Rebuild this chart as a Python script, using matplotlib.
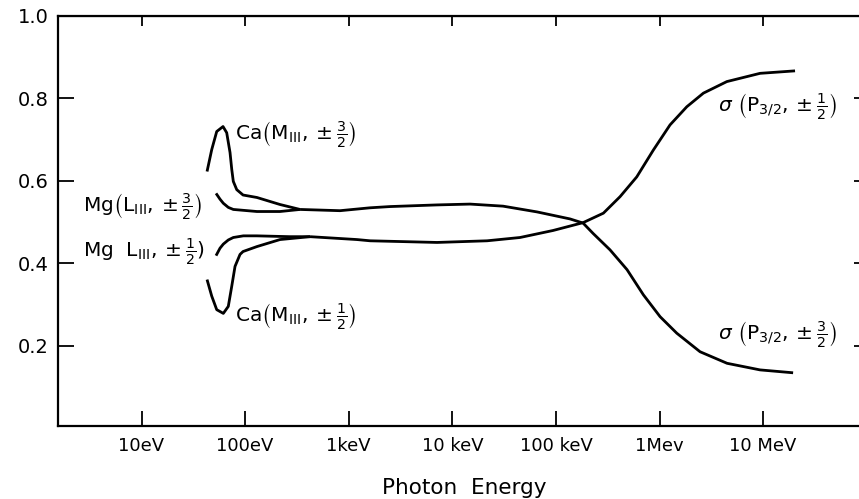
import numpy as np
import matplotlib
matplotlib.use("Agg")
import matplotlib.pyplot as plt
from matplotlib.ticker import NullLocator

plt.rcParams['font.family'] = ['DejaVu Sans']
plt.rcParams['mathtext.fontset'] = 'dejavusans'

# photon energy in eV
ca32_e = [42.9, 47.6, 53.2, 61.2, 66.4, 71.5, 74.3, 76.9, 83.0, 95.5, 130, 217, 339]
ca32_v = [0.623, 0.676, 0.720, 0.732, 0.717, 0.669, 0.628, 0.599, 0.579, 0.566, 0.560, 0.543, 0.531]

mg32_e = [52.4, 57.2, 61.6, 68.8, 76.9, 130, 217, 339]
mg32_v = [0.570, 0.556, 0.546, 0.536, 0.531, 0.526, 0.526, 0.531]

mg12_e = [52.4, 57.2, 61.6, 68.8, 76.9, 96.1, 129.4, 271, 423]
mg12_v = [0.419, 0.437, 0.447, 0.457, 0.463, 0.467, 0.467, 0.465, 0.465]

ca12_e = [42.9, 47.6, 53.2, 61.6, 68.8, 74.3, 79.9, 89.3, 95.5, 130, 217, 423]
ca12_v = [0.361, 0.321, 0.288, 0.279, 0.296, 0.345, 0.393, 0.422, 0.429, 0.441, 0.458, 0.465]

# common branches above ~400 eV
j32_e = [339, 824, 1607, 2506, 7117, 14820, 30850, 65750, 136800, 182700, 228000,
         332700, 485600, 698000, 1.012e6, 1.466e6, 2.460e6, 4.483e6, 9.33e6, 1.945e7]
j32_v = [0.531, 0.528, 0.535, 0.538, 0.542, 0.544, 0.539, 0.525, 0.508, 0.498, 0.473,
         0.433, 0.385, 0.324, 0.271, 0.231, 0.186, 0.158, 0.142, 0.135]

j12_e = [423, 1202, 1607, 7117, 21630, 44990, 93770, 182700, 287000, 415600, 602500,
         871000, 1.262e6, 1.832e6, 2.649e6, 4.46e6, 9.33e6, 2.03e7]
j12_v = [0.465, 0.458, 0.455, 0.451, 0.455, 0.463, 0.480, 0.499, 0.522, 0.562, 0.610,
         0.675, 0.736, 0.780, 0.813, 0.841, 0.861, 0.867]

tick_e = [10, 100, 1e3, 1e4, 1e5, 1e6, 1e7]
tick_lbl = ['10eV', '100eV', '1keV', '10 keV', '100 keV', '1Mev', '10 MeV']
ytick_v = [0.2, 0.4, 0.6, 0.8, 1.0]

fig = plt.figure(figsize=(8.59, 4.99), dpi=100)
# right edge of the frame sits just past the picture edge
ax = fig.add_axes([58 / 859, 73 / 499, 806 / 859, 410 / 499])

for e, v in [(ca32_e, ca32_v), (mg32_e, mg32_v), (mg12_e, mg12_v),
             (ca12_e, ca12_v), (j32_e, j32_v), (j12_e, j12_v)]:
    ax.plot(e, v, color='black', lw=2.0, solid_joinstyle='round', solid_capstyle='butt')

ax.set_xscale('log')
ax.set_xlim(1.563, 9.4e7)
ax.set_ylim(0.006, 1.0)

ax.set_xticks(tick_e)
ax.set_xticklabels(tick_lbl)
ax.xaxis.set_minor_locator(NullLocator())
ax.set_yticks(ytick_v)
ax.set_yticklabels(['0.2', '0.4', '0.6', '0.8', '1.0'])
ax.tick_params(axis='x', direction='in', length=11, width=1.3, labelsize=13, pad=8)
ax.tick_params(axis='y', direction='in', length=11.5, width=1.3, labelsize=14, pad=7)
for s in ax.spines.values():
    s.set_linewidth(1.6)

top = ax.secondary_xaxis('top')
top.set_xticks(tick_e)
top.xaxis.set_minor_locator(NullLocator())
top.tick_params(direction='in', length=7, width=1.3, labeltop=False)
right = ax.secondary_yaxis('right')
right.set_yticks(ytick_v)
right.tick_params(direction='in', length=7, width=1.3, labelright=False)

fs = 14.5
ax.text(80, 0.712, r'Ca$\left(\mathrm{M}_{\mathrm{III}},\pm\frac{3}{2}\right)$', fontsize=fs, va='center')
ax.text(2.72, 0.538, r'Mg$\left(\mathrm{L}_{\mathrm{III}},\pm\frac{3}{2}\right)$', fontsize=fs, va='center')
ax.text(2.72, 0.429, r'Mg  $\mathrm{L}_{\mathrm{III}},\pm\frac{1}{2})$', fontsize=fs, va='center')
ax.text(80, 0.270, r'Ca$\left(\mathrm{M}_{\mathrm{III}},\pm\frac{1}{2}\right)$', fontsize=fs, va='center')
ax.text(3.67e6, 0.78, r'$\sigma\ \left(\mathrm{P}_{3/2},\pm\frac{1}{2}\right)$', fontsize=fs, va='center')
ax.text(3.67e6, 0.227, r'$\sigma\ \left(\mathrm{P}_{3/2},\pm\frac{3}{2}\right)$', fontsize=fs, va='center')

fig.text(464 / 859, 1 - 488 / 499, 'Photon  Energy', fontsize=15.5, ha='center', va='center')

fig.savefig('out.png', dpi=100)
